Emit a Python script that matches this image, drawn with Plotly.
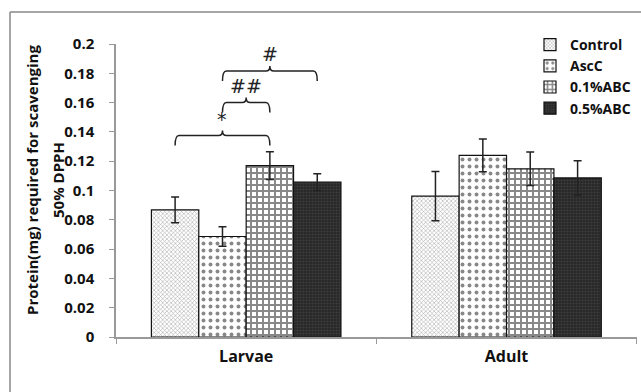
import plotly.graph_objects as go

# ---- data ----
categories = ["Larvae", "Adult"]
series_names = ["Control", "AscC", "0.1%ABC", "0.5%ABC"]
control = [0.0868, 0.0961]
ascc = [0.0686, 0.1240]
abc01 = [0.1170, 0.1148]
abc05 = [0.1057, 0.1086]
control_err = [0.0088, 0.0168]
ascc_err = [0.0066, 0.0112]
abc01_err = [0.0095, 0.0114]
abc05_err = [0.0057, 0.0117]
y_tickvals = [0, 0.02, 0.04, 0.06, 0.08, 0.1, 0.12, 0.14, 0.16, 0.18, 0.2]
y_ticktext = ["0", "0.02", "0.04", "0.06", "0.08", "0.1", "0.12", "0.14", "0.16", "0.18", "0.2"]
# significance brackets: (category index, from series, to series, label, level)
brackets = [(0, 0, 2, "*", 0.1375), (0, 1, 2, "##", 0.1600), (0, 1, 3, "#", 0.1815)]

values = [control, ascc, abc01, abc05]
errors = [control_err, ascc_err, abc01_err, abc05_err]

patterns = [
    dict(shape="x", size=3, solidity=0.35, fgcolor="#555555", bgcolor="white"),
    dict(shape=".", size=7, solidity=0.25, fgcolor="#111111", bgcolor="white"),
    dict(shape="+", size=6, solidity=0.55, fgcolor="#111111", bgcolor="white"),
    dict(shape=".", size=3, solidity=0.4, fgcolor="#555555", bgcolor="#262626"),
]

W, H = 641, 392
# paper area starts at the outer frame (top-left); plot area placed via axis domains
FL, FT = 10, 12
PW, PH = W - FL, H - FT
def xp(px):
    return (px - FL) / PW
def yp(py):
    return (H - py) / PH

PLOT_L, PLOT_R, PLOT_T, PLOT_B = 116, 636.7, 44, 337
BARGAP = 0.272
FONT = "Open Sans"

fig = go.Figure()
for name, v, e, p in zip(series_names, values, errors, patterns):
    fig.add_trace(go.Bar(
        x=categories, y=v, name=name,
        marker=dict(color=p["bgcolor"], pattern=p, line=dict(color="#111111", width=1.2)),
        error_y=dict(type="data", array=e, visible=True, color="#222222", thickness=1.5, width=4),
    ))

# brackets drawn in data coordinates from bar centres
w = (1 - BARGAP) / len(series_names)
def center(cat, i):
    return cat + (i - (len(series_names) - 1) / 2) * w

shapes = []
annotations = []
for cat, a, b, label, lvl in brackets:
    x0, x1 = center(cat, a), center(cat, b)
    xc = (x0 + x1) / 2
    dx = 0.015
    drop = 0.0068
    tip = 0.0035
    path = (f"M{x0},{lvl - drop} Q{x0},{lvl} {x0 + dx},{lvl} "
            f"L{xc - dx},{lvl} Q{xc},{lvl} {xc},{lvl + tip} "
            f"Q{xc},{lvl} {xc + dx},{lvl} L{x1 - dx},{lvl} "
            f"Q{x1},{lvl} {x1},{lvl - drop}")
    shapes.append(dict(type="path", path=path, xref="x", yref="y",
                       line=dict(color="#222222", width=1.5)))
    annotations.append(dict(x=xc, y=lvl + 0.0115, xref="x", yref="y", text=label,
                            showarrow=False, font=dict(family="DejaVu Sans", size=19, color="#222222")))

# outer frame: top and left edges of the paper area
frame_line = dict(color="#888888", width=1.5)
shapes.append(dict(type="line", xref="paper", yref="paper", x0=0, x1=1, y0=1, y1=1,
                   line=frame_line, layer="above"))
shapes.append(dict(type="line", xref="paper", yref="paper", x0=0, x1=0, y0=0, y1=1,
                   line=frame_line, layer="above"))

# y axis title, two lines
title_font = dict(family=FONT, size=15, color="#111111", weight="bold")
annotations.append(dict(x=xp(32), y=yp(180), xref="paper", yref="paper",
                        xanchor="center", yanchor="middle",
                        text="Protein(mg) required for scavenging", textangle=-90,
                        showarrow=False, font=title_font))
annotations.append(dict(x=xp(58), y=yp(180), xref="paper", yref="paper",
                        xanchor="center", yanchor="middle",
                        text="50% DPPH", textangle=-90, showarrow=False, font=title_font))

fig.update_layout(
    width=W, height=H, autosize=False,
    margin=dict(l=FL, r=0, t=FT, b=0, pad=0, autoexpand=False),
    paper_bgcolor="white", plot_bgcolor="white",
    barmode="group", bargap=BARGAP, bargroupgap=0,
    showlegend=True,
    legend=dict(x=xp(530), xanchor="left", y=yp(29), yanchor="top",
                font=dict(family=FONT, size=14, color="#111111", weight="bold"),
                bgcolor="rgba(0,0,0,0)", itemwidth=30, tracegroupgap=0),
    shapes=shapes, annotations=annotations,
    xaxis=dict(type="category", domain=[xp(PLOT_L), xp(PLOT_R)],
               showline=True, linecolor="#999999", linewidth=1.5,
               ticks="outside", tickson="boundaries", ticklen=5, tickcolor="#999999",
               tickfont=dict(family=FONT, size=16, color="#111111", weight="bold"),
               ticklabelstandoff=4, showgrid=False, zeroline=False, automargin=False),
    yaxis=dict(range=[0, 0.2], domain=[yp(PLOT_B), yp(PLOT_T)],
               tickvals=y_tickvals, ticktext=y_ticktext,
               showline=True, linecolor="#999999", linewidth=1.5,
               ticks="outside", ticklen=5, tickcolor="#999999",
               tickfont=dict(family=FONT, size=15, color="#111111", weight="bold"),
               ticklabelstandoff=12, showgrid=False, zeroline=False, automargin=False),
)

fig.write_html("out.html", config={"displayModeBar": False},
               post_script="document.body.style.margin='0';document.body.style.overflow='hidden';")
